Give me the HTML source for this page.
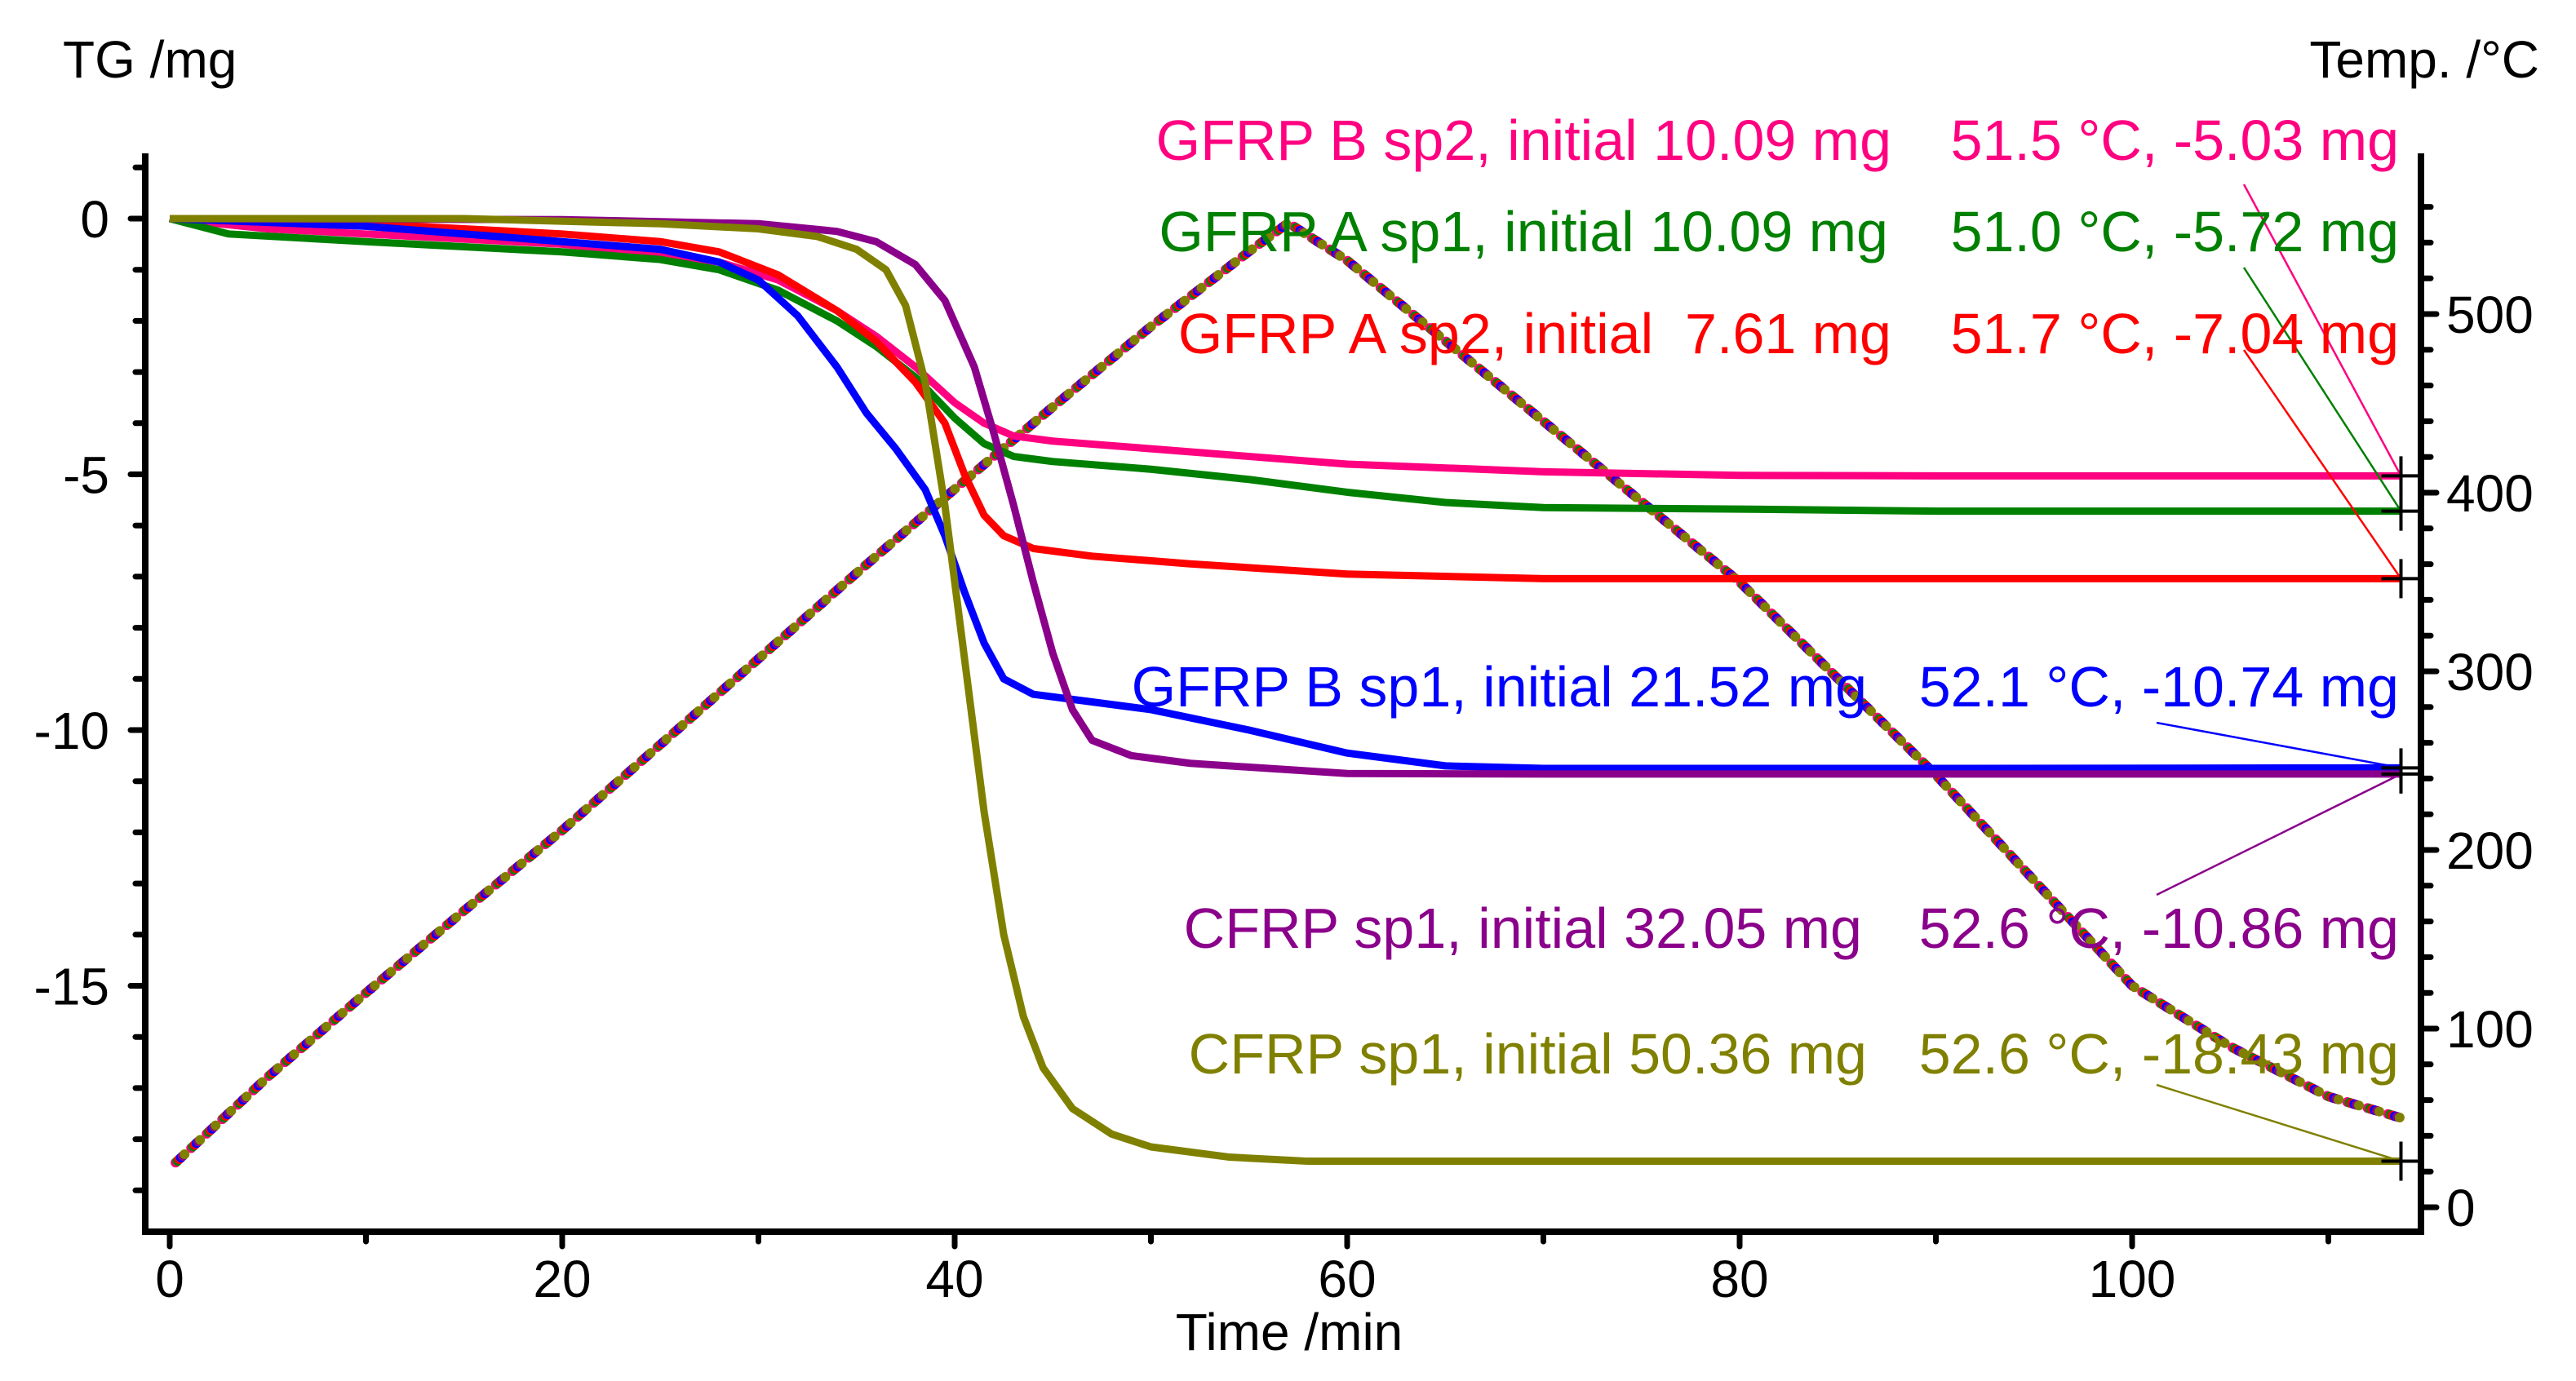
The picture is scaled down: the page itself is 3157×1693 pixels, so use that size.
<!DOCTYPE html>
<html><head><meta charset="utf-8"><style>
html,body{margin:0;padding:0;background:#fff;}
svg{display:block;font-family:"Liberation Sans",Arial,sans-serif;}
</style></head><body>
<svg id="chart" width="3157" height="1693" viewBox="0 0 3157 1693" xmlns="http://www.w3.org/2000/svg">
<g id="axes"></g>
<g id="temp"></g>
<g id="tg"></g>
<g id="ann"></g>
</svg>
<script>
// ---- data ----
const xTicks = [0, 20, 40, 60, 80, 100];
const tgTicks = [0, -5, -10, -15];
const tempTicks = [0, 100, 200, 300, 400, 500];

const tempTime = [0.3, 5, 10, 15, 20, 25, 30, 35, 40, 45, 50, 55, 57.0, 60, 65, 70, 75, 80, 85, 90, 95, 100, 105, 110, 113.7];
const tempVals = [25, 73, 120, 166, 211, 259, 307, 355, 402, 448, 493, 535, 551, 530, 485, 440, 395, 350, 296, 242, 183, 124, 90, 62, 50];

const pinkT = [0, 5, 10, 15, 20, 25, 28, 31, 34, 36, 38, 40, 41.5, 43, 45, 50, 55, 60, 70, 80, 90, 113.7];
const pinkV = [0, -0.2, -0.3, -0.4, -0.5, -0.7, -0.85, -1.2, -1.8, -2.3, -2.9, -3.6, -4.0, -4.25, -4.35, -4.5, -4.65, -4.8, -4.95, -5.02, -5.03, -5.03];
const greenT = [0, 3, 10, 15, 20, 25, 28, 31, 34, 36, 38, 40, 41.5, 43, 45, 50, 55, 60, 65, 70, 80, 90, 113.7];
const greenV = [0, -0.3, -0.45, -0.55, -0.65, -0.8, -1.0, -1.4, -2.0, -2.5, -3.1, -3.9, -4.4, -4.65, -4.75, -4.9, -5.1, -5.35, -5.55, -5.65, -5.68, -5.72, -5.72];
const redT = [0, 10, 20, 25, 28, 31, 34, 36, 38, 39.5, 40.5, 41.5, 42.5, 44, 47, 52, 60, 70, 90, 113.7];
const redV = [0, -0.1, -0.3, -0.45, -0.65, -1.1, -1.8, -2.4, -3.2, -4.0, -5.0, -5.8, -6.2, -6.45, -6.6, -6.75, -6.95, -7.04, -7.04, -7.04];
const blueT = [0, 10, 15, 20, 25, 28, 30, 32, 34, 35.5, 37, 38.5, 39.5, 40.5, 41.5, 42.5, 44, 47, 50, 55, 60, 65, 70, 90, 113.7];
const blueV = [0, -0.15, -0.3, -0.45, -0.6, -0.85, -1.2, -1.9, -2.9, -3.8, -4.5, -5.3, -6.2, -7.3, -8.3, -9.0, -9.3, -9.45, -9.6, -10.0, -10.45, -10.7, -10.75, -10.75, -10.74];
const purpleT = [0, 20, 30, 34, 36, 38, 39.5, 41, 42, 43, 44, 45, 46, 47, 49, 52, 56, 60, 70, 113.7];
const purpleV = [0, -0.02, -0.1, -0.25, -0.45, -0.9, -1.6, -2.9, -4.2, -5.6, -7.1, -8.5, -9.6, -10.2, -10.5, -10.65, -10.75, -10.85, -10.86, -10.86];
const oliveT = [0, 15, 25, 30, 33, 35, 36.5, 37.5, 38.5, 39.5, 40.5, 41.5, 42.5, 43.5, 44.5, 46, 48, 50, 54, 58, 113.7];
const oliveV = [0, 0, -0.1, -0.2, -0.35, -0.6, -1.0, -1.7, -3.2, -5.6, -8.6, -11.6, -14.0, -15.6, -16.6, -17.4, -17.9, -18.15, -18.35, -18.43, -18.43];

const labelsLeft = ["GFRP B sp2, initial 10.09 mg", "GFRP A sp1, initial 10.09 mg", "GFRP A sp2, initial  7.61 mg", "GFRP B sp1, initial 21.52 mg", "CFRP sp1, initial 32.05 mg", "CFRP sp1, initial 50.36 mg"];
const labelsRight = ["51.5 °C, -5.03 mg", "51.0 °C, -5.72 mg", "51.7 °C, -7.04 mg", "52.1 °C, -10.74 mg", "52.6 °C, -10.86 mg", "52.6 °C, -18.43 mg"];
const finalVals = [-5.03, -5.72, -7.04, -10.74, -10.86, -18.43];

// ---- scales ----
const X = t => 208 + t * 24.05;
const Y = v => 268 - v * 62.7;
const YT = T => 1480 - T * 2.19;
const RA = 2967;
const NS = "http://www.w3.org/2000/svg";
function mk(tag, attrs, parent, text) {
  const e = document.createElementNS(NS, tag);
  for (const k in attrs) e.setAttribute(k, attrs[k]);
  if (text !== undefined) e.textContent = text;
  parent.appendChild(e);
  return e;
}
const axes = document.getElementById('axes');
const FS = 64;
let e;
e = mk('path', {d: `M178 188 V1510 H${RA} V188`, fill: 'none', stroke: '#000', 'stroke-width': 8}, axes);


for (let v = 1; v >= -19; v--) {
  const maj = v % 5 === 0;
  e = mk('line', {x1: maj ? 160 : 166, x2: 178, y1: Y(v), y2: Y(v), stroke: '#000', 'stroke-width': 7, 'stroke-linecap': 'round'}, axes);
  
  
}
tgTicks.forEach(v => {
  e = mk('text', {x: 134, y: Y(v) + 23, 'text-anchor': 'end', 'font-size': FS}, axes, String(v));
  
  
});
for (let t = 0; t <= 110; t += 10) {
  const maj = t % 20 === 0;
  e = mk('line', {x1: X(t), x2: X(t), y1: 1510, y2: maj ? 1528 : 1522, stroke: '#000', 'stroke-width': 7, 'stroke-linecap': 'round'}, axes);
  
  
}
xTicks.forEach(t => {
  e = mk('text', {x: X(t), y: 1590, 'text-anchor': 'middle', 'font-size': FS}, axes, String(t));
  
  
});
for (let T = 0; T <= 560; T += 20) {
  const maj = T % 100 === 0;
  e = mk('line', {x1: RA, x2: maj ? RA + 19 : RA + 12, y1: YT(T), y2: YT(T), stroke: '#000', 'stroke-width': 7, 'stroke-linecap': 'round'}, axes);
  
  
}
tempTicks.forEach(T => {
  e = mk('text', {x: 2998, y: YT(T) + 23, 'text-anchor': 'start', 'font-size': FS}, axes, String(T));
  
  
});
e = mk('text', {x: 77, y: 95, 'font-size': FS}, axes, 'TG /mg');


e = mk('text', {x: 3112, y: 95, 'text-anchor': 'end', 'font-size': FS}, axes, 'Temp. /°C');


e = mk('text', {x: 1580, y: 1655, 'text-anchor': 'middle', 'font-size': FS}, axes, 'Time /min');



const tempG = document.getElementById('temp');
const tp = tempTime.map((t, i) => X(t) + ',' + YT(tempVals[i])).join(' ');
const dotCols = ['#ff0080', '#008000', '#ff0000', '#0000ff', '#8b008b', '#808000'];
dotCols.forEach((c, i) => {
  e = mk('polyline', {points: tp, fill: 'none', stroke: c, 'stroke-width': 12, 'stroke-linecap': 'round', 'stroke-dasharray': '0 26', 'stroke-dashoffset': -i * 3}, tempG);
  
  
});

const tgG = document.getElementById('tg');
const series = [[pinkT, pinkV, '#ff0080', 'gfrp-b-sp2'], [greenT, greenV, '#008000', 'gfrp-a-sp1'], [redT, redV, '#ff0000', 'gfrp-a-sp2'], [blueT, blueV, '#0000ff', 'gfrp-b-sp1'], [purpleT, purpleV, '#8b008b', 'cfrp-sp1-32'], [oliveT, oliveV, '#808000', 'cfrp-sp1-50']];
const colors = series.map(s => s[2]);
series.forEach(s => {
  const pts = s[0].map((t, i) => X(t) + ',' + Y(s[1][i])).join(' ');
  e = mk('polyline', {points: pts, fill: 'none', stroke: s[2], 'stroke-width': 9, 'stroke-linejoin': 'round'}, tgG);
  
  
});

const ann = document.getElementById('ann');
const baseY = [196, 308, 433, 866, 1162, 1316];
const leftEnd = [2318, 2314, 2318, 2288, 2282, 2288];
const leadStart = [[2750, 226], [2750, 328], [2750, 429], [2643, 886], [2643, 1097], [2643, 1330]];
const endX = X(113.7);
labelsLeft.forEach((l, i) => {
  e = mk('text', {x: leftEnd[i], y: baseY[i], 'text-anchor': 'end', 'font-size': 70, fill: colors[i]}, ann, l);
  e.style.whiteSpace = 'pre';
  
  
  e = mk('text', {x: 2940, y: baseY[i], 'text-anchor': 'end', 'font-size': 70, fill: colors[i]}, ann, labelsRight[i]);
  
  
  const yy = Y(finalVals[i]);
  e = mk('line', {x1: leadStart[i][0], y1: leadStart[i][1], x2: endX, y2: yy, stroke: colors[i], 'stroke-width': 2.5}, ann);
  
  
  e = mk('path', {d: `M${endX - 24} ${yy} H${endX + 24} M${endX} ${yy - 24} V${yy + 24}`, stroke: '#000', 'stroke-width': 4}, ann);
  
  
});
</script>
</body></html>
